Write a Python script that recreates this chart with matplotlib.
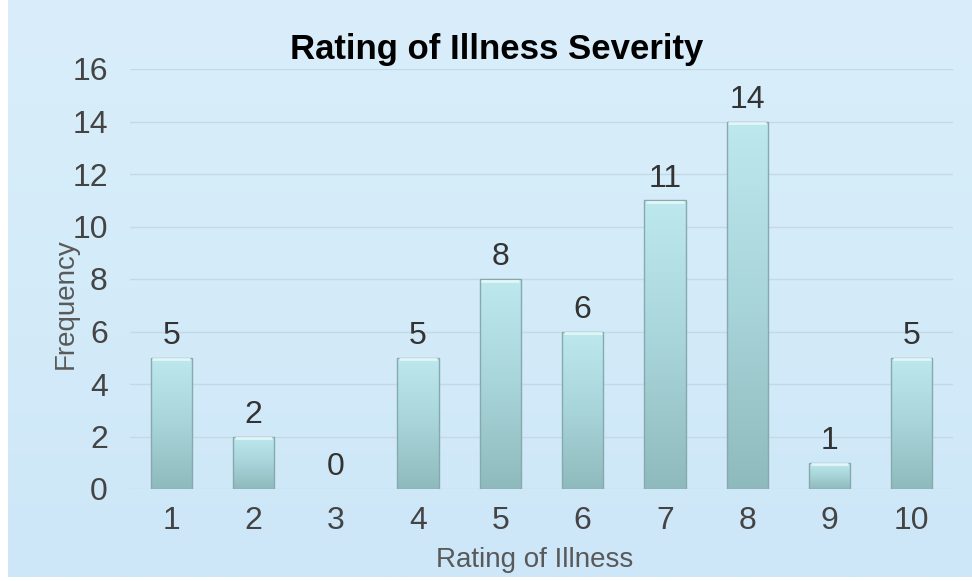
import numpy as np
import matplotlib
matplotlib.use("Agg")
import matplotlib.pyplot as plt
from matplotlib.colors import LinearSegmentedColormap
from matplotlib.patches import Rectangle

# chart data
ratings = ["1", "2", "3", "4", "5", "6", "7", "8", "9", "10"]
frequency = [5, 2, 0, 5, 8, 6, 11, 14, 1, 5]
y_ticks = [0, 2, 4, 6, 8, 10, 12, 14, 16]

plt.rcParams['font.family'] = ['Liberation Sans', 'DejaVu Sans']

W, H = 972, 581
fig = plt.figure(figsize=(W / 100, H / 100), dpi=100)
fig.patch.set_facecolor("white")

# light blue gradient backdrop, with white strip on the left and bottom
bg = fig.add_axes([8 / W, 4 / H, 1 - 8 / W, 1 - 4 / H])
bg.axis("off")
bg_cmap = LinearSegmentedColormap.from_list("bg", ["#d9eefa", "#d4ebf9", "#cde7f8"])
bg.imshow(np.linspace(0, 1, 256).reshape(-1, 1), aspect="auto", cmap=bg_cmap,
          extent=[0, 1, 0, 1], origin="upper")
bg.set_xlim(0, 1)
bg.set_ylim(0, 1)
fig.patches.append(Rectangle((0, 0), 8 / W, 1 - 13 / H, transform=fig.transFigure,
                             facecolor="white", edgecolor="none", zorder=5))

ax = fig.add_axes([130 / W, 1 - 489 / H, 823 / W, 420 / H])
ax.patch.set_alpha(0)

x = np.arange(1, len(ratings) + 1)
bars = ax.bar(x, frequency, width=0.5, color="none", edgecolor="#86a9ad",
              linewidth=1.0, zorder=3)

bar_cmap = LinearSegmentedColormap.from_list("bar", ["#8fbabd", "#a8d5da", "#bde9ee"])
grad = np.linspace(0, 1, 256).reshape(-1, 1)
for b in bars:
    h = b.get_height()
    if h <= 0:
        b.set_linewidth(0)
        continue
    x0 = b.get_x()
    x1 = x0 + b.get_width()
    im = ax.imshow(grad, aspect="auto", cmap=bar_cmap, origin="lower",
                   extent=[x0, x1, 0, h], zorder=2)
    im.set_clip_path(b)
    # light rim on the top of the bar
    ax.plot([x0 + 0.02, x1 - 0.02], [h - 0.06, h - 0.06], color="#e2f6f8",
            lw=2, zorder=4, solid_capstyle="butt")

for xi, v in zip(x, frequency):
    ax.text(xi, v + 0.25, str(v), ha="center", va="bottom", fontsize=23,
            color="#333333", zorder=5)

ax.set_xlim(0.5, len(ratings) + 0.5)
ax.set_ylim(0, 16)
ax.set_xticks(x)
ax.set_xticklabels(ratings)
ax.set_yticks(y_ticks)
ax.grid(axis="y", color="#c3d9e6", linewidth=1, zorder=0)
ax.set_axisbelow(True)
for s in ax.spines.values():
    s.set_visible(False)
ax.tick_params(length=0, labelsize=23, labelcolor="#444444")
ax.tick_params(axis="x", pad=12)
ax.tick_params(axis="y", pad=16)

fig.text(535 / W, 1 - 560 / H, "Rating of Illness", ha="center", va="center",
         fontsize=20, color="#595959")
fig.text(66 / W, 1 - 304 / H, "Frequency", ha="center", va="center",
         rotation=90, fontsize=20, color="#595959")
fig.text(497 / W, 1 - 50 / H, "Rating of Illness Severity", ha="center", va="center",
         fontsize=25, fontweight="bold", color="black")

fig.savefig("out.png", dpi=100)
